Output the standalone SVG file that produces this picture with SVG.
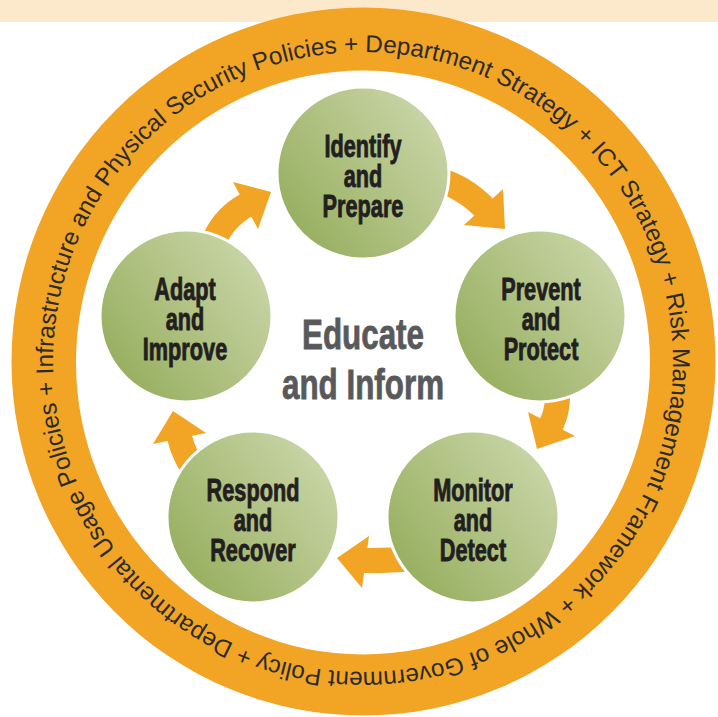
<svg xmlns="http://www.w3.org/2000/svg" width="718" height="717" viewBox="0 0 718 717">
<defs>
  <linearGradient id="green" x1="0.1" y1="0.85" x2="0.95" y2="0.2">
    <stop offset="0" stop-color="#97AF5F"/>
    <stop offset="1" stop-color="#C9D5A7"/>
  </linearGradient>
  <path id="ringPath" d="M363,672 A310,310 0 0 1 363,52 A310,310 0 0 1 363,672 A310,310 0 0 1 363,52"/>
</defs>
<style>
  .orange{fill:#F2A424}
  .shaft{fill:none;stroke:#F2A424;stroke-width:25;stroke-linecap:butt}
  .node circle{fill:url(#green);stroke:#FFFFFF;stroke-width:3}
  .lbl{font-family:"Liberation Sans",Arial,sans-serif;font-weight:bold;font-size:31px;fill:#231F20;stroke:#231F20;stroke-width:0.9;text-anchor:middle}
  .center{font-family:"Liberation Sans",Arial,sans-serif;font-weight:bold;font-size:43px;fill:#58595B;stroke:#58595B;stroke-width:0.8;text-anchor:middle}
  .rt{font-family:"Liberation Sans",Arial,sans-serif;font-size:24.3px;fill:#2B2B2B;text-anchor:middle}
</style>
<rect x="0" y="0" width="718" height="717" fill="#FFFFFF"/>
<rect x="0" y="0" width="718" height="22" fill="#FCE9CC"/>

<g id="ring">
  <path class="orange" fill-rule="evenodd" d="M11.5,361.5 A352,354 0 1 1 715.5,361.5 A352,354 0 1 1 11.5,361.5 Z M76,362.5 A287,292 0 1 0 650,362.5 A287,292 0 1 0 76,362.5 Z"/>
  <text class="rt"><textPath href="#ringPath" startOffset="119.03">+</textPath></text>
  <text class="rt"><textPath href="#ringPath" startOffset="205.94">Departmental</textPath></text>
  <text class="rt"><textPath href="#ringPath" startOffset="320.91">Usage</textPath></text>
  <text class="rt"><textPath href="#ringPath" startOffset="404.77">Policies</textPath></text>
  <text class="rt"><textPath href="#ringPath" startOffset="460.57">+</textPath></text>
  <text class="rt"><textPath href="#ringPath" startOffset="546.13">Infrastructure</textPath></text>
  <text class="rt"><textPath href="#ringPath" startOffset="644.88">and</textPath></text>
  <text class="rt"><textPath href="#ringPath" startOffset="717.24">Physical</textPath></text>
  <text class="rt"><textPath href="#ringPath" startOffset="813.27">Security</textPath></text>
  <text class="rt"><textPath href="#ringPath" startOffset="905.91">Policies</textPath></text>
  <text class="rt"><textPath href="#ringPath" startOffset="961.71">+</textPath></text>
  <text class="rt"><textPath href="#ringPath" startOffset="1039.15">Department</textPath></text>
  <text class="rt"><textPath href="#ringPath" startOffset="1154.81">Strategy</textPath></text>
  <text class="rt"><textPath href="#ringPath" startOffset="1214.00">+</textPath></text>
  <text class="rt"><textPath href="#ringPath" startOffset="1247.47">ICT</textPath></text>
  <text class="rt"><textPath href="#ringPath" startOffset="1319.16">Strategy</textPath></text>
  <text class="rt"><textPath href="#ringPath" startOffset="1378.35">+</textPath></text>
  <text class="rt"><textPath href="#ringPath" startOffset="1415.88">Risk</textPath></text>
  <text class="rt"><textPath href="#ringPath" startOffset="1517.32">Management</textPath></text>
  <text class="rt"><textPath href="#ringPath" startOffset="1655.95">Framework</textPath></text>
  <text class="rt"><textPath href="#ringPath" startOffset="1730.67">+</textPath></text>
  <text class="rt"><textPath href="#ringPath" startOffset="1779.03">Whole</textPath></text>
  <text class="rt"><textPath href="#ringPath" startOffset="1830.43">of</textPath></text>
  <text class="rt"><textPath href="#ringPath" startOffset="1914.30">Government</textPath></text>
  <text class="rt"><textPath href="#ringPath" startOffset="2020.47">Policy</textPath></text>
</g>

<g id="connectors">
  <path class="shaft" d="M210,252 Q219,219.5 248.1,204.1"/>
  <polygon class="orange" points="271,192 233,182 258,229"/>
  <path class="shaft" d="M438,180 Q463.3,186.3 485.6,209.1"/>
  <polygon class="orange" points="505,229 503,189 464,225"/>
  <path class="shaft" d="M557,385 Q559.5,410.2 550,426.6"/>
  <polygon class="orange" points="537,449 528,412 575,436"/>
  <path class="shaft" d="M418,558 Q386,561 363,560.5"/>
  <polygon class="orange" points="337,558 369,536 362,588"/>
  <path class="shaft" d="M200,478 Q184.1,457.9 179,435.5"/>
  <polygon class="orange" points="173,411 153,444 206,433"/>
</g>

<g id="identify" class="node">
  <circle cx="363" cy="173" r="86"/>
  <text class="lbl" transform="translate(363,0) scale(0.70,1)"><tspan x="0" y="157">Identify</tspan><tspan x="0" y="187">and</tspan><tspan x="0" y="217">Prepare</tspan></text>
</g>
<g id="prevent" class="node">
  <circle cx="540" cy="316" r="86"/>
  <text class="lbl" transform="translate(541,0) scale(0.70,1)"><tspan x="0" y="300">Prevent</tspan><tspan x="0" y="330">and</tspan><tspan x="0" y="360">Protect</tspan></text>
</g>
<g id="monitor" class="node">
  <circle cx="473" cy="517" r="86"/>
  <text class="lbl" transform="translate(473,0) scale(0.70,1)"><tspan x="0" y="501">Monitor</tspan><tspan x="0" y="531">and</tspan><tspan x="0" y="561">Detect</tspan></text>
</g>
<g id="respond" class="node">
  <circle cx="253" cy="517" r="86"/>
  <text class="lbl" transform="translate(253,0) scale(0.70,1)"><tspan x="0" y="501">Respond</tspan><tspan x="0" y="531">and</tspan><tspan x="0" y="561">Recover</tspan></text>
</g>
<g id="adapt" class="node">
  <circle cx="186" cy="316" r="86"/>
  <text class="lbl" transform="translate(185,0) scale(0.70,1)"><tspan x="0" y="300">Adapt</tspan><tspan x="0" y="330">and</tspan><tspan x="0" y="360">Improve</tspan></text>
</g>

<g id="educate">
  <text class="center" transform="translate(363,0) scale(0.73,1)"><tspan x="0" y="349">Educate</tspan><tspan x="0" y="399">and Inform</tspan></text>
</g>
</svg>
